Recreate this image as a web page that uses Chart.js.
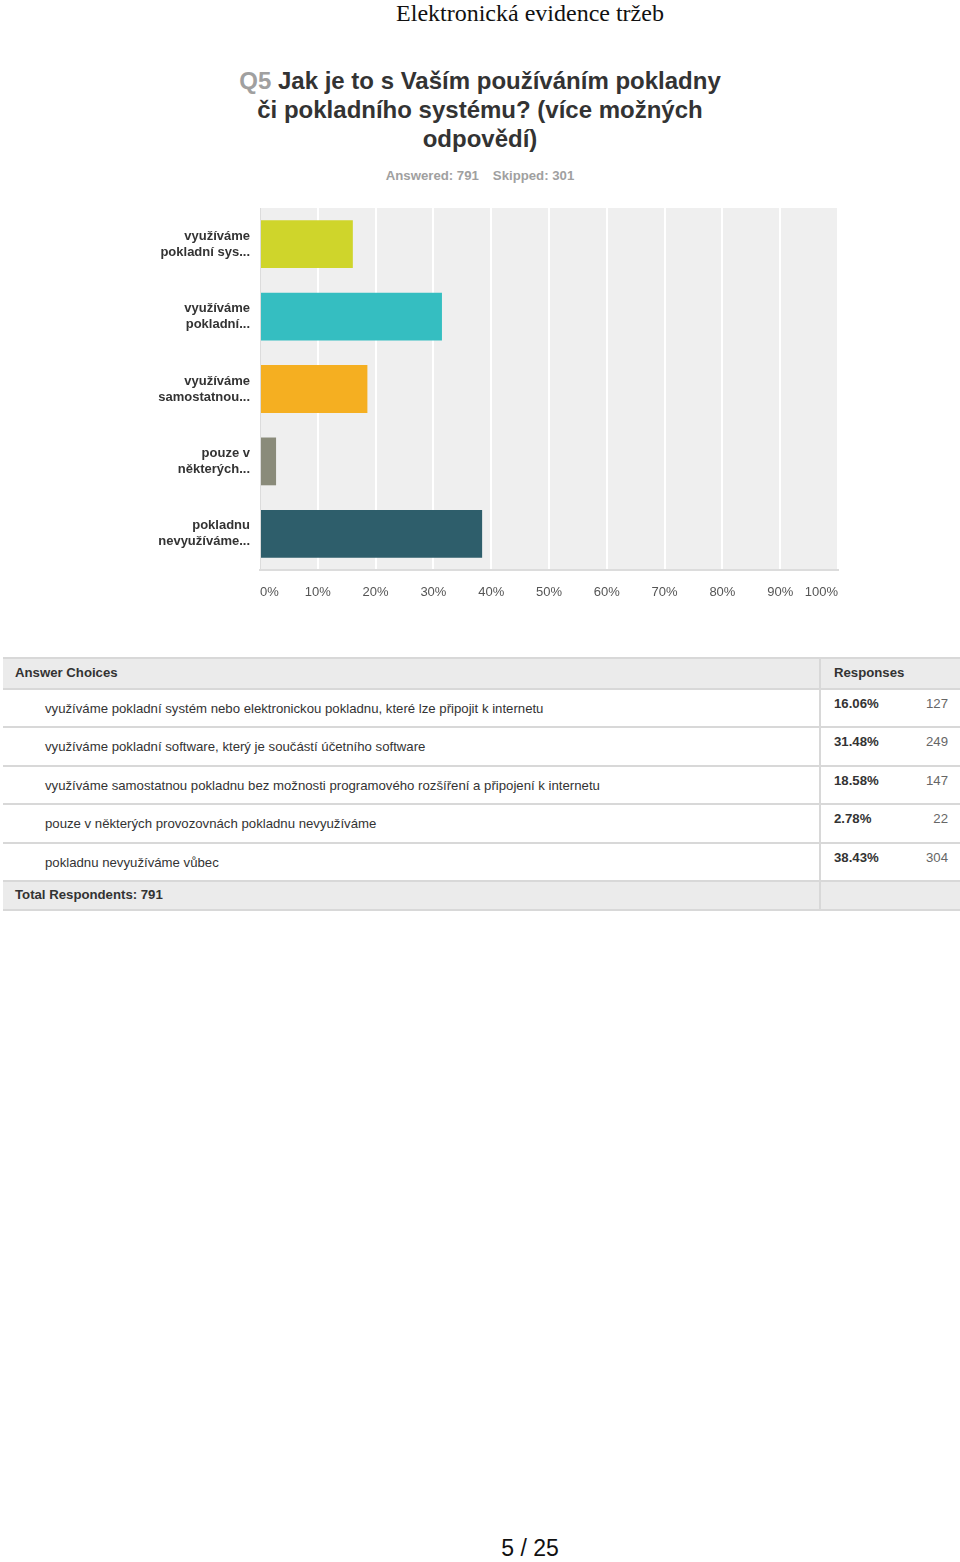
<!DOCTYPE html>
<html>
<head>
<meta charset="utf-8">
<script src="https://cdn.jsdelivr.net/npm/chart.js@4"></script>
<style>
  body { margin: 0; width: 960px; height: 1562px; background: #fff; font-family: "Liberation Sans", Arial, sans-serif; position: relative; }
  .doc-head { position: absolute; top: 0; left: 0; width: 1060px; text-align: center; font-family: "Liberation Serif", "Times New Roman", serif; font-size: 24px; color: #111; line-height: 26px; }
  .q-title { position: absolute; top: 66px; left: 0; width: 960px; text-align: center; font-weight: bold; font-size: 24px; line-height: 29px; color: #333; }
  .q-title .qn { color: #a0a0a0; }
  .stats { position: absolute; top: 168px; left: 0; width: 960px; text-align: center; font-weight: bold; font-size: 13.2px; color: #a0a0a0; }
  .stats span { margin: 0 7px; }
  #chartBox { position: absolute; left: 140px; top: 200px; width: 720px; height: 410px; }
  #respTable { position: absolute; left: 3px; top: 657px; width: 957px; font-size: 13.2px; color: #333; }
  .trow { position: absolute; left: 0; width: 957px; border-top: 2px solid #d8d8d8; box-sizing: border-box; }
  .trow.gray { background: #ebebeb; font-weight: bold; }
  .trow.last { border-bottom: 2px solid #d8d8d8; }
  .trow div { position: absolute; white-space: nowrap; }
  .divider { position: absolute; left: 816px; top: 0; bottom: 0; border-left: 2px solid #d8d8d8; }
  .page { position: absolute; top: 1535px; left: 0; width: 1060px; text-align: center; font-size: 23px; color: #111; }
</style>
</head>
<body>
<div class="doc-head">Elektronická evidence tržeb</div>
<div class="q-title"><span class="qn">Q5</span> Jak je to s Vaším používáním pokladny<br>či pokladního systému? (více možných<br>odpovědí)</div>
<div class="stats"><span>Answered: 791</span><span>Skipped: 301</span></div>
<div id="chartBox"><canvas id="q5Chart"></canvas></div>
<div id="respTable"></div>
<div class="page">5 / 25</div>
<script>
// short labels shown on the chart axis
const shortLabels = [
  ["využíváme", "pokladní sys..."],
  ["využíváme", "pokladní..."],
  ["využíváme", "samostatnou..."],
  ["pouze v", "některých..."],
  ["pokladnu", "nevyužíváme..."]
];
// full answer texts for the table
const answerChoices = [
  "využíváme pokladní systém nebo elektronickou pokladnu, které lze připojit k internetu",
  "využíváme pokladní software, který je součástí účetního software",
  "využíváme samostatnou pokladnu bez možnosti programového rozšíření a připojení k internetu",
  "pouze v některých provozovnách pokladnu nevyužíváme",
  "pokladnu nevyužíváme vůbec"
];
const percentages = [16.06, 31.48, 18.58, 2.78, 38.43];
const counts = [127, 249, 147, 22, 304];
const barColors = ["#cfd52b", "#35bec1", "#f5af21", "#8a8b7a", "#2e5e6b"];
const xTicks = [0, 10, 20, 30, 40, 50, 60, 70, 80, 90, 100];

// gray plot background
const plotBg = {
  id: "plotBg",
  beforeDraw(chart) {
    const { ctx, chartArea: a } = chart;
    ctx.save();
    ctx.fillStyle = "#efefef";
    ctx.fillRect(a.left, a.top, a.right - a.left, a.bottom - a.top);
    ctx.restore();
  }
};

const ctx = document.querySelector("#q5Chart").getContext("2d");
new Chart(ctx, {
  type: "bar",
  data: {
    labels: shortLabels,
    datasets: [{
      data: percentages,
      backgroundColor: barColors,
      barPercentage: 0.66,
      categoryPercentage: 1
    }]
  },
  options: {
    indexAxis: "y",
    responsive: true,
    maintainAspectRatio: false,
    animation: false,
    layout: { padding: { top: 8, right: 22, left: 0, bottom: 0 } },
    plugins: { legend: { display: false }, tooltip: { enabled: false } },
    scales: {
      x: {
        min: 0,
        max: 100,
        afterBuildTicks: (axis) => { axis.ticks = xTicks.map((v) => ({ value: v })); },
        afterFit: (axis) => { axis.height = 40; axis.paddingLeft = 0; axis.paddingRight = 0; },
        grid: { color: "#ffffff", lineWidth: 2, drawTicks: false },
        border: { color: "#dcdcdc", width: 2 },
        ticks: {
          align: "inner",
          padding: 15,
          color: "#555",
          font: { family: "Liberation Sans", size: 13 },
          callback: (v) => v + "%"
        }
      },
      y: {
        afterFit: (axis) => { axis.width = 120; axis.paddingTop = 0; axis.paddingBottom = 0; },
        grid: { display: false, drawTicks: false },
        border: { color: "#dcdcdc", width: 1 },
        ticks: {
          padding: 10,
          color: "#333",
          font: { family: "Liberation Sans", size: 13, weight: "bold", lineHeight: 1.23 }
        }
      }
    }
  },
  plugins: [plotBg]
});

// response table
const table = document.querySelector("#respTable");
const rowTops = [0, 31, 69, 108, 146, 185, 223];
let html = `<div class="trow gray" style="top:${rowTops[0]}px;height:31px"><div style="left:12px;top:6px">Answer Choices</div><div class="divider"></div><div style="left:831px;top:6px">Responses</div></div>`;
answerChoices.forEach((txt, i) => {
  const h = rowTops[i + 2] - rowTops[i + 1];
  html += `<div class="trow" style="top:${rowTops[i + 1]}px;height:${h}px">` +
    `<div style="left:42px;top:11px">${txt}</div><div class="divider"></div>` +
    `<div style="left:831px;top:6px;font-weight:bold">${percentages[i].toFixed(2)}%</div>` +
    `<div style="right:12px;top:6px;color:#666">${counts[i]}</div></div>`;
});
html += `<div class="trow gray last" style="top:${rowTops[6]}px;height:31px"><div style="left:12px;top:5px">Total Respondents: 791</div><div class="divider"></div></div>`;
table.innerHTML = html;
</script>
</body>
</html>
